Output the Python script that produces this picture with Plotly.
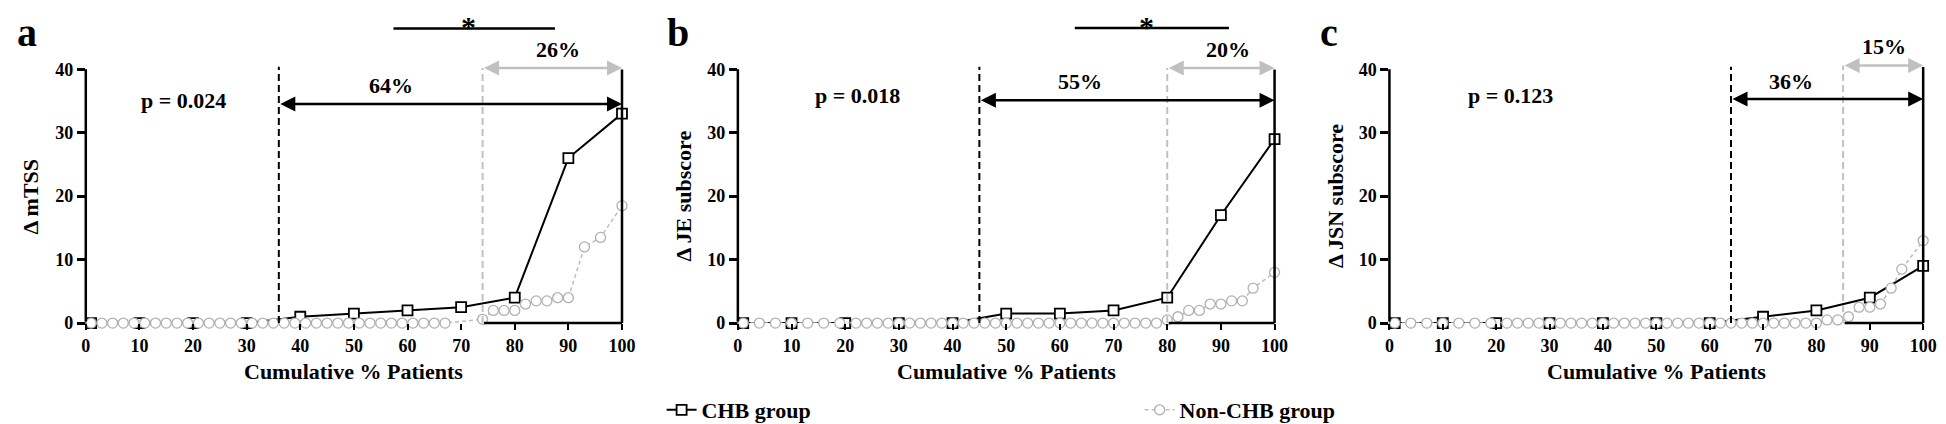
import plotly.graph_objects as go

FONT = "Liberation Serif, Times New Roman, serif"
GRAY = "#bdbdbd"
CIRC = "#b0b0b0"

# ---------------- data ----------------
x_ticks = [0, 10, 20, 30, 40, 50, 60, 70, 80, 90, 100]
y_ticks = [0, 10, 20, 30, 40]

chb_x = [1, 10, 20, 30, 40, 50, 60, 70, 80, 90, 100]
a_chb_y = [0, 0, 0, 0, 1, 1.5, 2, 2.5, 4, 26, 33]
b_chb_y = [0, 0, 0, 0, 0, 1.5, 1.5, 2, 4, 17, 29]
c_chb_y = [0, 0, 0, 0, 0, 0, 0, 1, 2, 4, 9]

a_non_x = [1, 3, 5, 7, 9, 11, 13, 15, 17, 19, 21, 23, 25, 27, 29, 31, 33, 35, 37, 39,
           41, 43, 45, 47, 49, 51, 53, 55, 57, 59, 61, 63, 65, 67,
           74, 76, 78, 80, 82, 84, 86, 88, 90, 93, 96, 100]
a_non_y = [0, 0, 0, 0, 0, 0, 0, 0, 0, 0, 0, 0, 0, 0, 0, 0, 0, 0, 0, 0,
           0, 0, 0, 0, 0, 0, 0, 0, 0, 0, 0, 0, 0, 0,
           0.6, 2, 2, 2, 3, 3.5, 3.5, 4, 4, 12, 13.5, 18.5]

b_non_x = [1, 4, 7, 10, 13, 16, 19, 22, 24, 26, 28, 30, 32, 34, 36, 38, 40, 42, 44, 46,
           48, 50, 52, 54, 56, 58, 60, 62, 64, 66, 68, 70, 72, 74, 76, 78,
           80, 82, 84, 86, 88, 90, 92, 94, 96, 100]
b_non_y = [0, 0, 0, 0, 0, 0, 0, 0, 0, 0, 0, 0, 0, 0, 0, 0, 0, 0, 0, 0,
           0, 0, 0, 0, 0, 0, 0, 0, 0, 0, 0, 0, 0, 0, 0, 0,
           0.5, 1, 2, 2, 3, 3, 3.5, 3.5, 5.5, 8]

c_non_x = [1, 4, 7, 10, 13, 16, 19, 22, 24, 26, 28, 30, 32, 34, 36, 38, 40, 42, 44, 46,
           48, 50, 52, 54, 56, 58, 60, 62, 64, 66, 68, 70, 72, 74, 76, 78, 80,
           82, 84, 86, 88, 90, 92, 94, 96, 100]
c_non_y = [0, 0, 0, 0, 0, 0, 0, 0, 0, 0, 0, 0, 0, 0, 0, 0, 0, 0, 0, 0,
           0, 0, 0, 0, 0, 0, 0, 0, 0, 0, 0, 0, 0, 0, 0, 0, 0,
           0.5, 0.5, 1, 2.5, 2.5, 3, 5.5, 8.5, 13]

panel_letters = ["a", "b", "c"]
y_titles = ["Δ mTSS", "Δ JE subscore", "Δ JSN subscore"]
x_title = "Cumulative % Patients"
p_texts = ["p = 0.024", "p = 0.018", "p = 0.123"]
p_pos = [(18.2, 35.0), (22.3, 35.8), (22.6, 35.8)]

chb_start = [36, 45, 64]          # black dashed line
non_start = [74, 80, 85]          # gray dashed line
chb_pct = ["64%", "55%", "36%"]
chb_pct_pos = [(57.0, 37.5), (63.8, 38.1), (75.3, 38.1)]
chb_arrow_y = [34.5, 35.1, 35.3]
non_pct = ["26%", "20%", "15%"]
non_pct_pos = [(88.1, 43.1), (91.3, 43.1), (92.6, 43.6)]
non_arrow_y = [40.2, 40.2, 40.6]
star_bar = [(57.1, 87.5, 46.4), (62.5, 91.5, 46.5), None]
star_x = [71.4, 76.1, None]

series = [(chb_x, a_chb_y, a_non_x, a_non_y),
          (chb_x, b_chb_y, b_non_x, b_non_y),
          (chb_x, c_chb_y, c_non_x, c_non_y)]

# ---------------- layout geometry ----------------
W, H = 1946, 424
Y_TOP = 48.5                      # room above 40 for the brackets
PX_PER_UNIT = 6.5
y0_px = 322.7
x_domains = [(73.5 / W, 615 / W), (732 / W, 1274 / W), (1390 / W, 1929 / W)]
y_domain = ((H - y0_px) / H, (H - (y0_px - Y_TOP * PX_PER_UNIT)) / H)
ytitle_mid = (H - (y0_px - 20 * PX_PER_UNIT)) / H
letter_x = [2, 658, 1318]
ytitle_x = [17.5, 677, 1335]

fig = go.Figure()
annotations = []
shapes = []
tiny = dict(size=1)


def seg(xa, ya, x0, y0, x1, y1, color, width):
    return dict(text="", xref=xa, yref=ya, axref=xa, ayref=ya, x=x1, y=y1, ax=x0, ay=y0,
                showarrow=True, arrowhead=0, arrowwidth=width, arrowcolor=color,
                standoff=0, startstandoff=0, font=tiny)


def darrow(xa, ya, x0, x1, y, color):
    return dict(text="", xref=xa, yref=ya, axref=xa, ayref=ya, x=x1, y=y, ax=x0, ay=y,
                showarrow=True, arrowside="end+start", arrowhead=2, startarrowhead=2,
                arrowsize=1.2, startarrowsize=1.2, arrowwidth=2.5, arrowcolor=color,
                standoff=0, startstandoff=0, font=tiny)


for i in range(3):
    xa = "x" if i == 0 else f"x{i+1}"
    ya = "y" if i == 0 else f"y{i+1}"
    cx, cy, nx, ny = series[i]
    fig.add_trace(go.Scatter(
        x=cx, y=cy, xaxis=xa, yaxis=ya, mode="lines+markers", name="CHB group",
        legendgroup="chb", showlegend=(i == 0), cliponaxis=False,
        line=dict(color="black", width=2),
        marker=dict(symbol="square", size=10, color="white", line=dict(color="black", width=1.8))))
    fig.add_trace(go.Scatter(
        x=nx, y=ny, xaxis=xa, yaxis=ya, mode="lines+markers", name="Non-CHB group",
        legendgroup="non", showlegend=(i == 0), cliponaxis=False,
        line=dict(color=GRAY, width=1.5, dash="4px,3px"),
        marker=dict(symbol="circle", size=10, color="white", line=dict(color=CIRC, width=1.3))))

    axx = dict(domain=list(x_domains[i]), range=[0, 100], anchor=ya,
               showline=False, showgrid=False, zeroline=False,
               tickmode="array", tickvals=x_ticks, ticks="outside", ticklen=6, tickwidth=2,
               tickcolor="black",
               tickfont=dict(family=FONT, size=18, color="black", weight="bold"))
    axy = dict(domain=list(y_domain), range=[0, Y_TOP], anchor=xa,
               showline=False, showgrid=False, zeroline=False,
               tickmode="array", tickvals=y_ticks, ticks="outside", ticklen=8, tickwidth=2.5,
               tickcolor="black",
               tickfont=dict(family=FONT, size=18, color="black", weight="bold"))
    fig.update_layout(**{("xaxis" if i == 0 else f"xaxis{i+1}"): axx,
                         ("yaxis" if i == 0 else f"yaxis{i+1}"): axy})

    tfont = dict(family=FONT, size=22, color="black", weight="bold")
    # y axis line only from 0 to 40
    annotations.append(seg(xa, ya, 0, 0, 0, 40, "black", 2.5))
    # panel letter
    annotations.append(dict(text=panel_letters[i], xref="paper", yref="paper",
                            x=letter_x[i] / W, y=1, xanchor="left", yanchor="top",
                            showarrow=False, font=dict(family=FONT, size=40, color="black", weight="bold")))
    # axis titles
    annotations.append(dict(text=y_titles[i], xref="paper", yref="paper", textangle=-90,
                            x=ytitle_x[i] / W, y=ytitle_mid,
                            xanchor="center", yanchor="middle", showarrow=False, font=tfont))
    annotations.append(dict(text=x_title, xref=f"{xa} domain", yref="paper",
                            x=0.5, y=(H - 372) / H, xanchor="center", yanchor="middle",
                            showarrow=False, font=tfont))
    # p-value
    annotations.append(dict(text=p_texts[i], xref=xa, yref=ya, x=p_pos[i][0], y=p_pos[i][1],
                            showarrow=False, font=tfont))
    # percentages
    annotations.append(dict(text=chb_pct[i], xref=xa, yref=ya, x=chb_pct_pos[i][0],
                            y=chb_pct_pos[i][1], showarrow=False, font=tfont))
    annotations.append(dict(text=non_pct[i], xref=xa, yref=ya, x=non_pct_pos[i][0],
                            y=non_pct_pos[i][1], showarrow=False, font=tfont))
    # double-headed arrows
    annotations.append(darrow(xa, ya, chb_start[i], 100, chb_arrow_y[i], "black"))
    annotations.append(darrow(xa, ya, non_start[i], 100, non_arrow_y[i], "#c0c0c0"))
    # solid vertical at 100 and baseline segment
    annotations.append(seg(xa, ya, 100, non_arrow_y[i], 100, 0, "black", 2.5))
    annotations.append(seg(xa, ya, non_start[i], 0, 100, 0, "black", 2.5))
    # significance bar + star
    if star_bar[i] is not None:
        x0, x1, yb = star_bar[i]
        annotations.append(seg(xa, ya, x0, yb, x1, yb, "black", 2.5))
        annotations.append(dict(text="*", xref=xa, yref="paper", x=star_x[i], y=1,
                                xanchor="center", yanchor="top", showarrow=False,
                                font=dict(family=FONT, size=30, color="black", weight="bold")))
    # dashed verticals
    shapes.append(dict(type="line", xref=xa, yref=ya, x0=chb_start[i], x1=chb_start[i],
                       y0=0, y1=40.4, line=dict(color="black", width=2, dash="7px,4px")))
    shapes.append(dict(type="line", xref=xa, yref=ya, x0=non_start[i], x1=non_start[i],
                       y0=0, y1=non_arrow_y[i], line=dict(color="#c0c0c0", width=2, dash="7px,4px")))

fig.update_layout(
    width=W, height=H, margin=dict(l=0, r=0, t=0, b=0),
    paper_bgcolor="white", plot_bgcolor="white",
    annotations=annotations, shapes=shapes,
    showlegend=True,
    legend=dict(orientation="h", x=655 / W, y=(H - 411.7) / H, xanchor="left", yanchor="middle",
                entrywidth=433, entrywidthmode="pixels", bgcolor="rgba(0,0,0,0)",
                font=dict(family=FONT, size=22, color="black", weight="bold"),
                itemclick=False, itemdoubleclick=False),
)

fig.write_html("out.html", config={"displayModeBar": False})
